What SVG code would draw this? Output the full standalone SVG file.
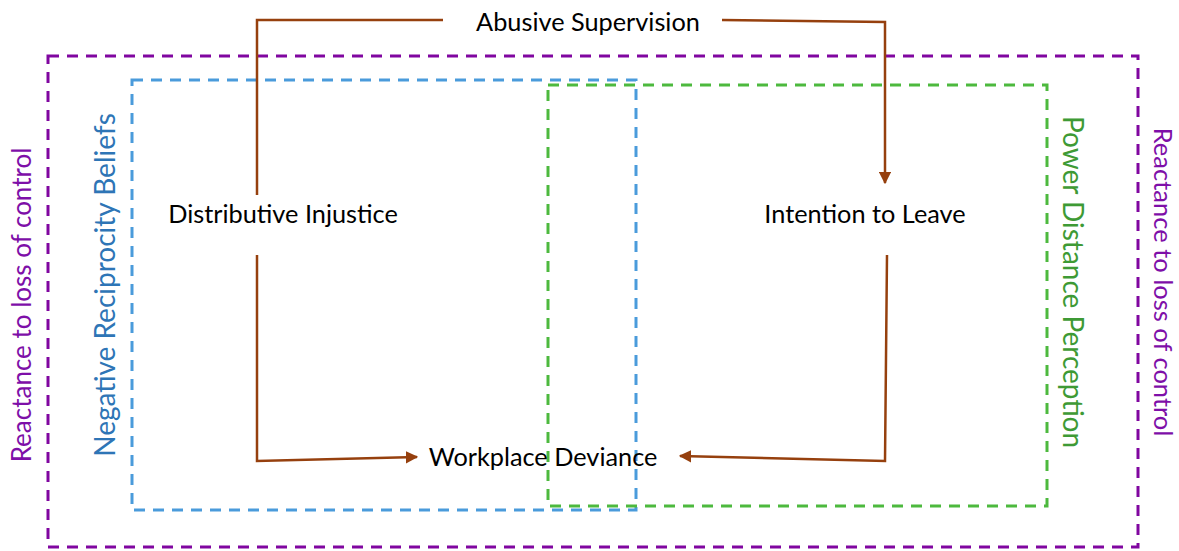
<svg xmlns="http://www.w3.org/2000/svg" width="1179" height="551" viewBox="0 0 1179 551">
<style>
text{font-family:Lato,"Liberation Sans",sans-serif;}
.node{font-size:25.3px;fill:#000;text-anchor:middle;}
.frame{fill:none;stroke-width:3;stroke-dasharray:11 8;}
.purple{stroke:#8006A0;}
.blue{stroke:#4A9BDB;}
.green{stroke:#4DB93E;}
.lbl{text-anchor:middle;}
.conn{fill:none;stroke:#96400E;stroke-width:2.5;}
</style>
<defs>
<marker id="arr" viewBox="0 0 10 10" refX="9" refY="5" markerWidth="5" markerHeight="5" orient="auto" markerUnits="strokeWidth">
<path d="M0,0 L10,5 L0,10 z" fill="#96400E"/>
</marker>
</defs>
<g id="frames">
<g id="reactance-frame"><rect class="frame purple" x="48" y="56" width="1090" height="491"/></g>
<g id="reciprocity-frame"><rect class="frame blue" x="132" y="80" width="504" height="430"/></g>
<g id="powerdistance-frame"><rect class="frame green" x="548" y="85" width="499" height="421"/></g>
</g>
<g id="connectors">
<path class="conn" d="M257,195 L257,20 L443,20"/>
<path class="conn" d="M722,20 L885,22 L885,183" marker-end="url(#arr)"/>
<path class="conn" d="M257,255 L257,461 L417,457" marker-end="url(#arr)"/>
<path class="conn" d="M887,255 L885,461 L680,456" marker-end="url(#arr)"/>
</g>
<g id="abusive-supervision"><text class="node" x="588" y="31">Abusive Supervision</text></g>
<g id="distributive-injustice"><text class="node" x="283" y="223">Distributive Injustice</text></g>
<g id="intention-to-leave"><text class="node" x="865" y="223">Intention to Leave</text></g>
<g id="workplace-deviance"><text class="node" x="543" y="466">Workplace Deviance</text></g>
<g id="label-reciprocity"><text class="lbl" font-size="28" fill="#2E75B6" transform="translate(115,285) rotate(-90)">Negative Reciprocity Beliefs</text></g>
<g id="label-reactance-left"><text class="lbl" font-size="26" fill="#7E0FA8" transform="translate(31,305) rotate(-90)">Reactance to loss of control</text></g>
<g id="label-powerdistance"><text class="lbl" font-size="28" fill="#3E9A35" transform="translate(1063,282) rotate(90)">Power Distance Perception</text></g>
<g id="label-reactance-right"><text class="lbl" font-size="25.5" fill="#7E0FA8" transform="translate(1154,282) rotate(90)">Reactance to loss of control</text></g>
</svg>
